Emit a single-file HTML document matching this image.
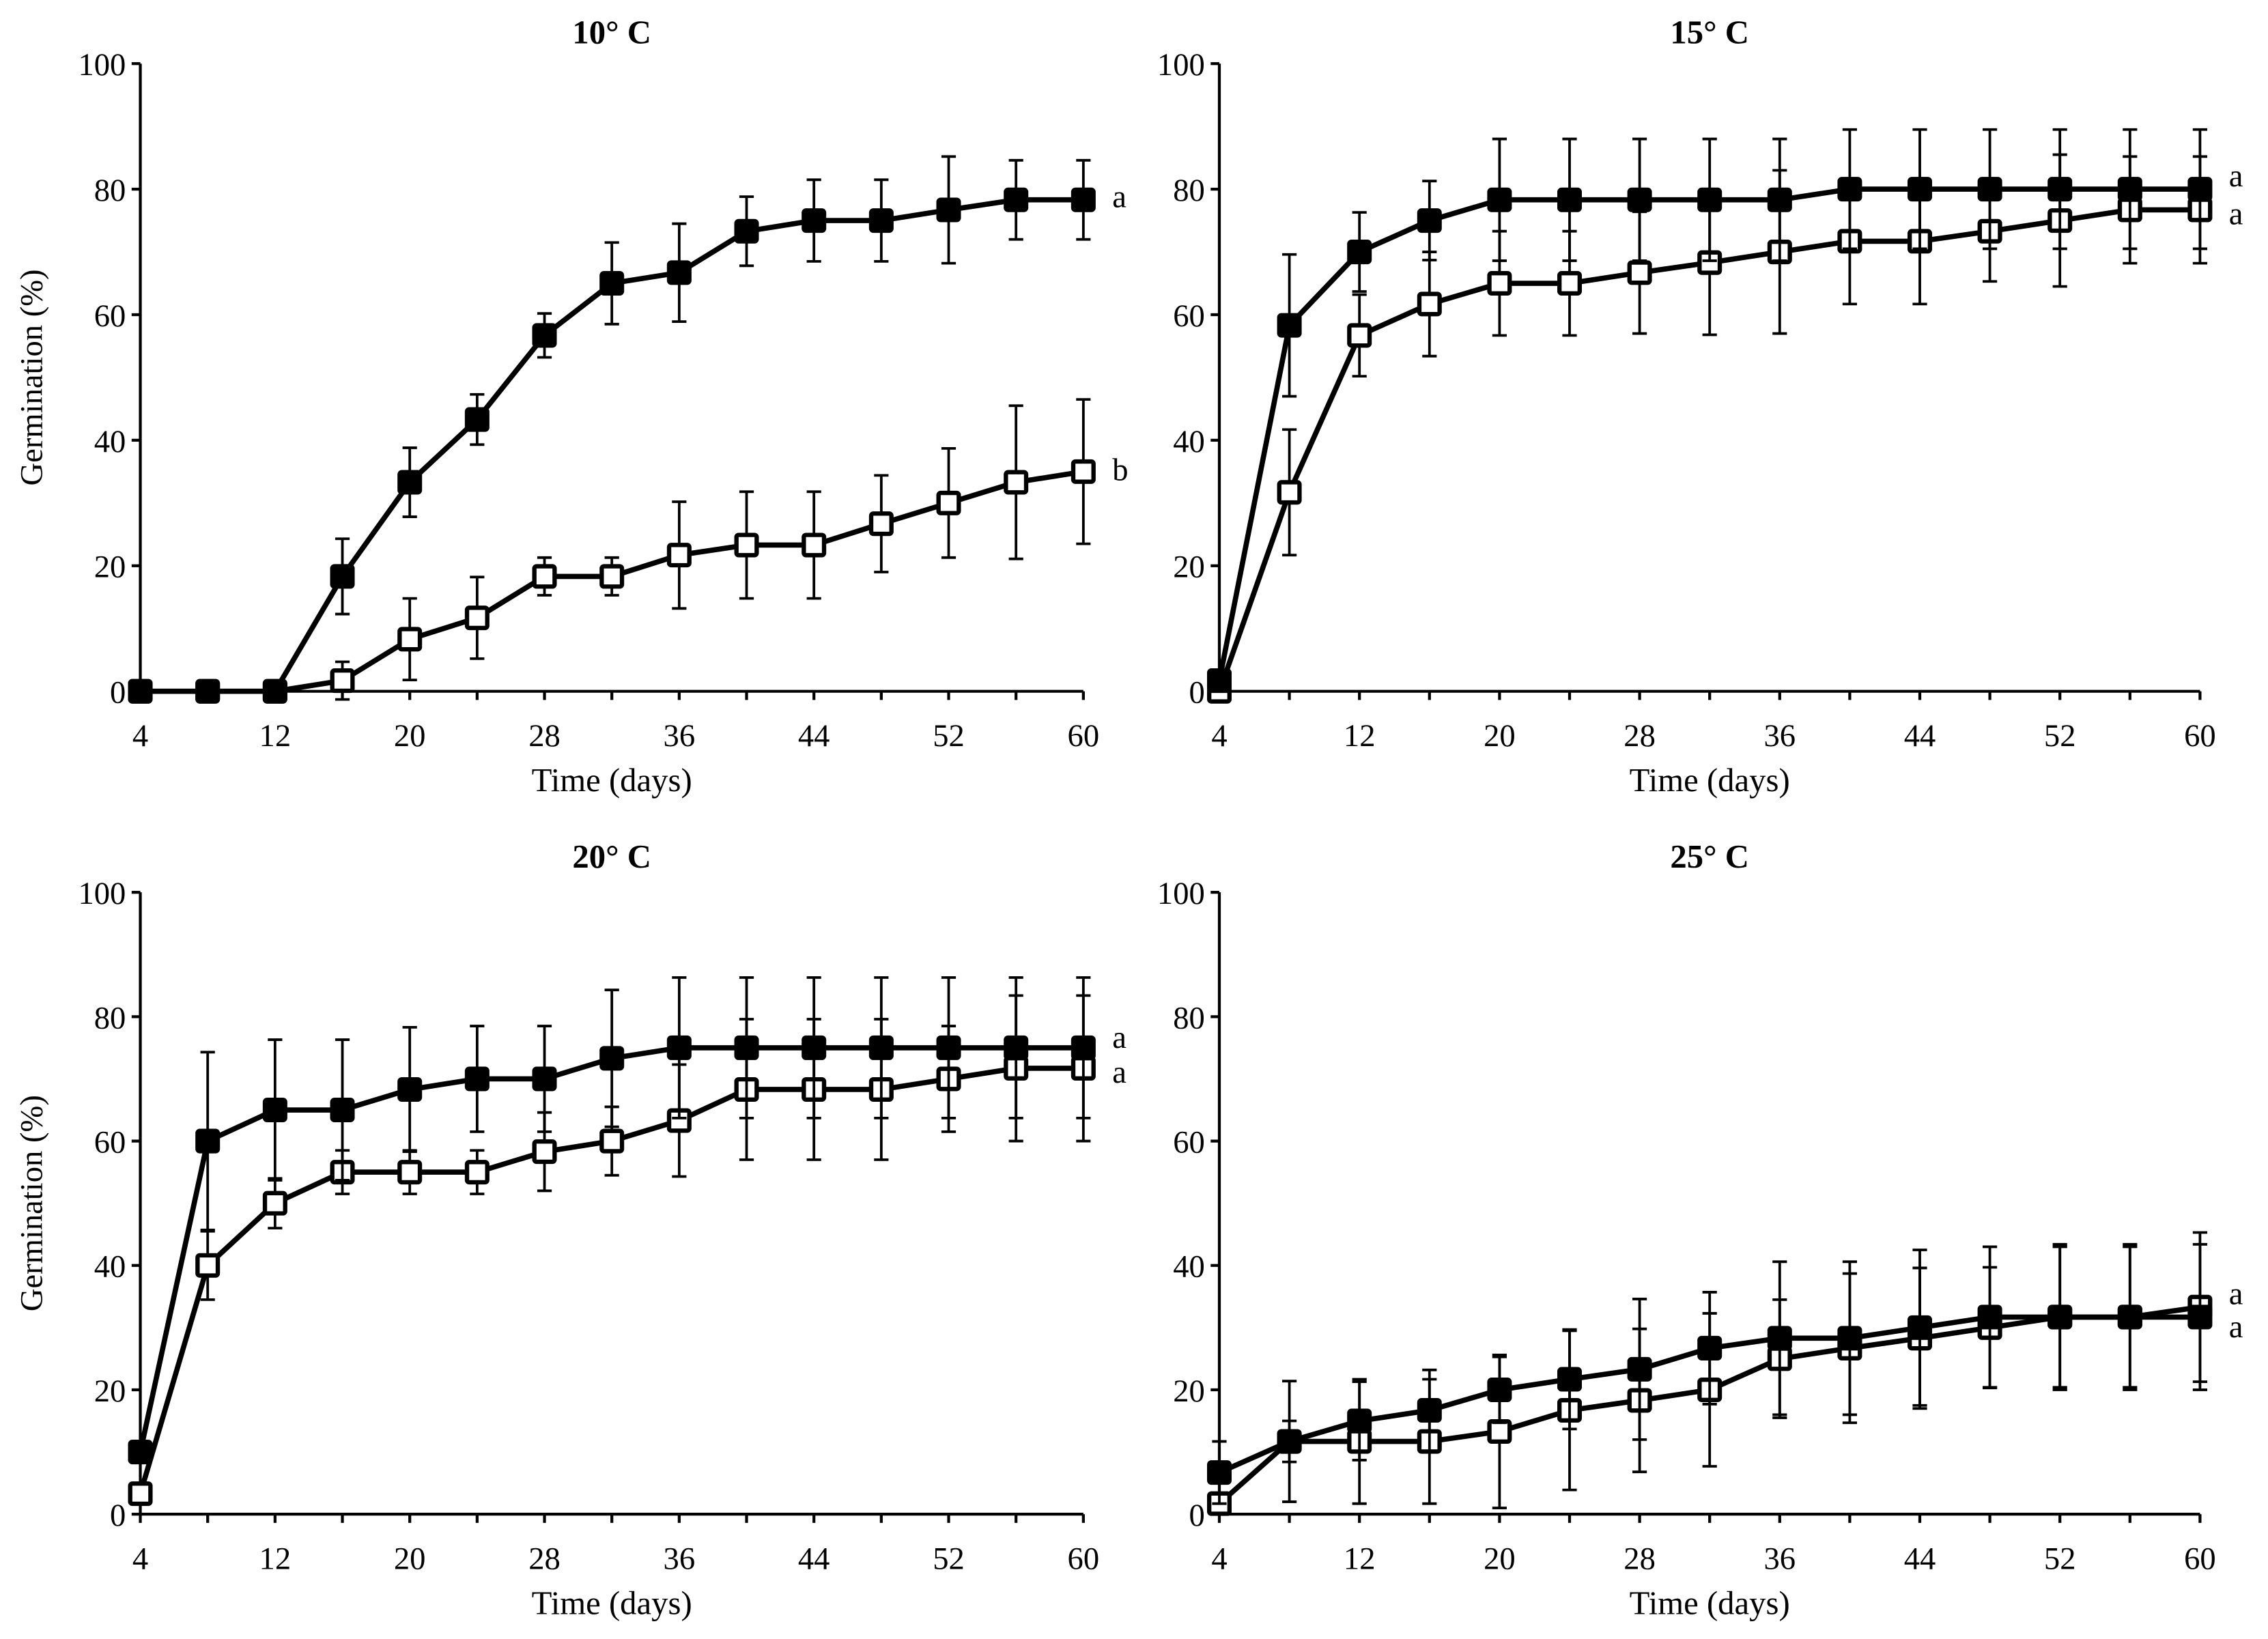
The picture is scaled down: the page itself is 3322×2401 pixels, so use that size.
<!DOCTYPE html>
<html><head><meta charset="utf-8"><style>
html,body{margin:0;padding:0;background:#fff;}
svg{display:block;}
text{font-family:"Liberation Serif",serif;fill:#000;}
</style></head><body>
<svg id="chart" xmlns="http://www.w3.org/2000/svg" width="3322" height="2401" viewBox="0 0 1568 1133.3"></svg>
<script>
const days = [4,8,12,16,20,24,28,32,36,40,44,48,52,56,60];
const xTickLabels = [4,12,20,28,36,44,52,60];
const yTickLabels = [0,20,40,60,80,100];
const titles = ["10° C","15° C","20° C","25° C"];
const filled10 = [0,0,0,18.3,33.3,43.3,56.7,65,66.7,73.3,75,75,76.7,78.3,78.3];
const filled10Err = [0,0,0,6,5.5,4,3.5,6.5,7.8,5.5,6.5,6.5,8.5,6.3,6.3];
const open10 = [0,0,0,1.7,8.3,11.7,18.3,18.3,21.7,23.3,23.3,26.7,30,33.3,35];
const open10Err = [0,0,0,3,6.5,6.5,3,3,8.5,8.5,8.5,7.7,8.7,12.2,11.5];
const filled15 = [1.7,58.3,70,75,78.3,78.3,78.3,78.3,78.3,80,80,80,80,80,80];
const filled15Err = [0,11.3,6.3,6.3,9.7,9.7,9.7,9.7,9.7,9.5,9.5,9.5,9.5,9.5,9.5];
const open15 = [0,31.7,56.7,61.7,65,65,66.7,68.3,70,71.7,71.7,73.3,75,76.7,76.7];
const open15Err = [0,10,6.5,8.3,8.3,8.3,9.7,11.5,13,10,10,8,10.5,8.5,8.5];
const filled20 = [10,60,65,65,68.3,70,70,73.3,75,75,75,75,75,75,75];
const filled20Err = [0,14.3,11.3,11.3,10,8.5,8.5,11,11.3,11.3,11.3,11.3,11.3,11.3,11.3];
const open20 = [3.3,40,50,55,55,55,58.3,60,63.3,68.3,68.3,68.3,70,71.7,71.7];
const open20Err = [0,5.5,4,3.5,3.5,3.5,6.3,5.5,9,11.3,11.3,11.3,8.5,11.7,11.7];
const filled25 = [6.7,11.7,15,16.7,20,21.7,23.3,26.7,28.3,28.3,30,31.7,31.7,31.7,31.7];
const filled25Err = [5,9.7,6.3,6.5,5.3,8,11.3,9,12.3,12.3,12.5,11.3,11.7,11.7,11.7];
const open25 = [1.7,11.7,11.7,11.7,13.3,16.7,18.3,20,25,26.7,28.3,30,31.7,31.7,33.3];
const open25Err = [0,3.3,10,10,12.3,12.8,11.5,12.3,9.5,12,11.3,9.7,11.3,11.3,12];
const letters = [["a","b"],["a","a"],["a","a"],["a","a"]];

const NS="http://www.w3.org/2000/svg";
const svg=document.getElementById('chart');
function mk(tag,attrs,parent){const e=document.createElementNS(NS,tag);for(const k in attrs)e.setAttribute(k,attrs[k]);(parent||svg).appendChild(e);return e;}
const panels=[
 {x0:97,x1:749,y0:478,y1:44,f:filled10,fe:filled10Err,o:open10,oe:open10Err,ty:22,showY:true,lf:5,lo:6},
 {x0:843,x1:1521,y0:478,y1:44,f:filled15,fe:filled15Err,o:open15,oe:open15Err,ty:22,showY:false,lf:-2,lo:10},
 {x0:97,x1:749,y0:1047,y1:617,f:filled20,fe:filled20Err,o:open20,oe:open20Err,ty:592,showY:true,lf:0,lo:10},
 {x0:843,x1:1521,y0:1047,y1:617,f:filled25,fe:filled25Err,o:open25,oe:open25Err,ty:592,showY:false,lf:14,lo:-2}
];
panels.forEach((p,pi)=>{
 const g=mk('g',{});
 
 
 const sx=d=>p.x0+(d-4)/(60-4)*(p.x1-p.x0);
 const sy=v=>p.y0+v/100*(p.y1-p.y0);
 const t=mk('text',{x:(p.x0+p.x1)/2,y:p.ty+8,'text-anchor':'middle','font-size':23,'font-weight':'bold'},g);t.textContent=titles[pi];
 
 const ax=mk('path',{d:`M${p.x0},${p.y1}V${p.y0}H${p.x1}`,stroke:'#000','stroke-width':2,fill:'none'},g);
 
 yTickLabels.forEach(v=>{
  mk('line',{x1:p.x0-6,x2:p.x0,y1:sy(v),y2:sy(v),stroke:'#000','stroke-width':2},g);
  const tl=mk('text',{x:p.x0-10,y:sy(v)+8,'text-anchor':'end','font-size':22},g);tl.textContent=v;
  
 });
 days.forEach(d=>mk('line',{x1:sx(d),x2:sx(d),y1:p.y0,y2:p.y0+6,stroke:'#000','stroke-width':2},g));
 xTickLabels.forEach(d=>{
  const tl=mk('text',{x:sx(d),y:p.y0+38,'text-anchor':'middle','font-size':22},g);tl.textContent=d;
  
 });
 const xt=mk('text',{x:(p.x0+p.x1)/2,y:p.y0+69,'text-anchor':'middle','font-size':23},g);xt.textContent='Time (days)';
 
 if(p.showY){
  const yc=(p.y0+p.y1)/2;
  const yt=mk('text',{x:29,y:yc,'text-anchor':'middle','font-size':22,transform:`rotate(-90 29 ${yc})`},g);yt.textContent='Germination (%)';
  
 }
 [[p.o,p.oe,'#fff','open-series',p.lo],[p.f,p.fe,'#000','filled-series',p.lf]].forEach(([vals,errs,fill,name,off])=>{
  const sg=mk('g',{},g);
  
  vals.forEach((v,i)=>{ if(errs[i]>0){const x=sx(days[i]);
   mk('path',{d:`M${x},${sy(v+errs[i])}V${sy(v-errs[i])}M${x-5},${sy(v+errs[i])}h10M${x-5},${sy(v-errs[i])}h10`,stroke:'#000','stroke-width':1.8,fill:'none'},sg);}});
  mk('polyline',{points:vals.map((v,i)=>sx(days[i])+','+sy(v)).join(' '),stroke:'#000','stroke-width':3.6,fill:'none'},sg);
  vals.forEach((v,i)=>{
   const r=mk('rect',{x:sx(days[i])-7,y:sy(v)-7,width:14,height:14,rx:1.5,fill:fill,stroke:'#000','stroke-width':3},sg);
   
  });
  const last=vals[vals.length-1];
  const lt=mk('text',{x:p.x1+20,y:sy(last)+off,'font-size':22},sg);
  lt.textContent=letters[pi][name==='filled-series'?0:1];
  
 });
});
</script>
</body></html>
